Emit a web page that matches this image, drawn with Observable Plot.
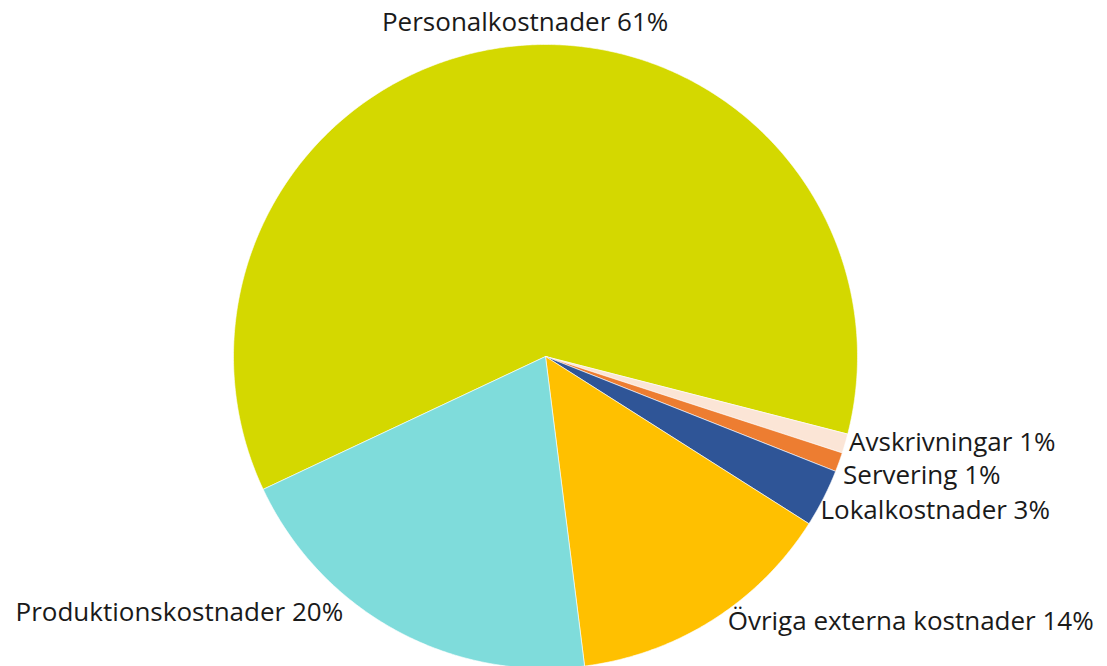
<!DOCTYPE html>
<html>
<head>
<meta charset="utf-8">
<script src="https://cdn.jsdelivr.net/npm/d3@7"></script>
<script src="https://cdn.jsdelivr.net/npm/@observablehq/plot@0.6"></script>
<style>
  html, body { margin: 0; padding: 0; background: #fff; }
  #chart svg { display: block; }
</style>
</head>
<body>
<div id="chart"></div>
<script>
// Data (order clockwise on screen, starting with Personalkostnader)
const categories = ["Personalkostnader", "Avskrivningar", "Servering", "Lokalkostnader", "Övriga externa kostnader", "Produktionskostnader"];
const shares = [61, 1, 1, 3, 14, 20];
const labels = ["Personalkostnader 61%", "Avskrivningar 1%", "Servering 1%", "Lokalkostnader 3%", "Övriga externa kostnader 14%", "Produktionskostnader 20%"];
const colors = ["#D4D800", "#FBE5D6", "#ED7D31", "#2F5597", "#FFC000", "#7FDCDB"];

// Layout
const W = 1107, H = 666;
const cx = 545, cy = 356, R = 312;
const startDeg = 154.8; // screen angle (clockwise from +x) where first slice begins
const labelAnchor = ["middle", "start", "start", "start", "start", "end"];
const labelNudge = [[9, -23], [4, -1], [4, 13], [-3, 13], [15, 2], [-52, -17]];

const total = d3.sum(shares);
const slices = [];
const labelRows = [];
let a0 = startDeg;
shares.forEach((v, i) => {
  const span = v / total * 360;
  const a1 = a0 + span;
  const n = Math.max(4, Math.ceil(span * 2));
  slices.push({cat: categories[i], x: 0, y: 0});
  for (let k = 0; k <= n; k++) {
    const t = (a0 + span * k / n) * Math.PI / 180;
    slices.push({cat: categories[i], x: R * Math.cos(t), y: R * Math.sin(t)});
  }
  slices.push({cat: categories[i], x: 0, y: 0});
  const m = (a0 + span / 2) * Math.PI / 180;
  labelRows.push({
    text: labels[i],
    anchor: labelAnchor[i],
    x: R * Math.cos(m) + labelNudge[i][0],
    y: R * Math.sin(m) + labelNudge[i][1]
  });
  a0 = a1;
});

const textOpts = {fill: "#1a1a1a", fontSize: 26, fontFamily: "Open Sans", stroke: null};

const chart = Plot.plot({
  width: W,
  height: H,
  margin: 0,
  style: {background: "#fff", fontFamily: "Open Sans"},
  x: {type: "linear", domain: [-cx, W - cx], range: [0, W], axis: null},
  y: {type: "linear", domain: [-cy, H - cy], range: [0, H], axis: null},
  color: {domain: categories, range: colors},
  marks: [
    Plot.line(slices, {x: "x", y: "y", z: "cat", fill: "cat", stroke: "#fff", strokeWidth: 0.6, curve: "linear"}),
    ...["start", "middle", "end"].map(anc =>
      Plot.text(labelRows.filter(d => d.anchor === anc), {x: "x", y: "y", text: "text", textAnchor: anc, ...textOpts})
    )
  ]
});
document.getElementById("chart").appendChild(chart);
</script>
</body>
</html>
